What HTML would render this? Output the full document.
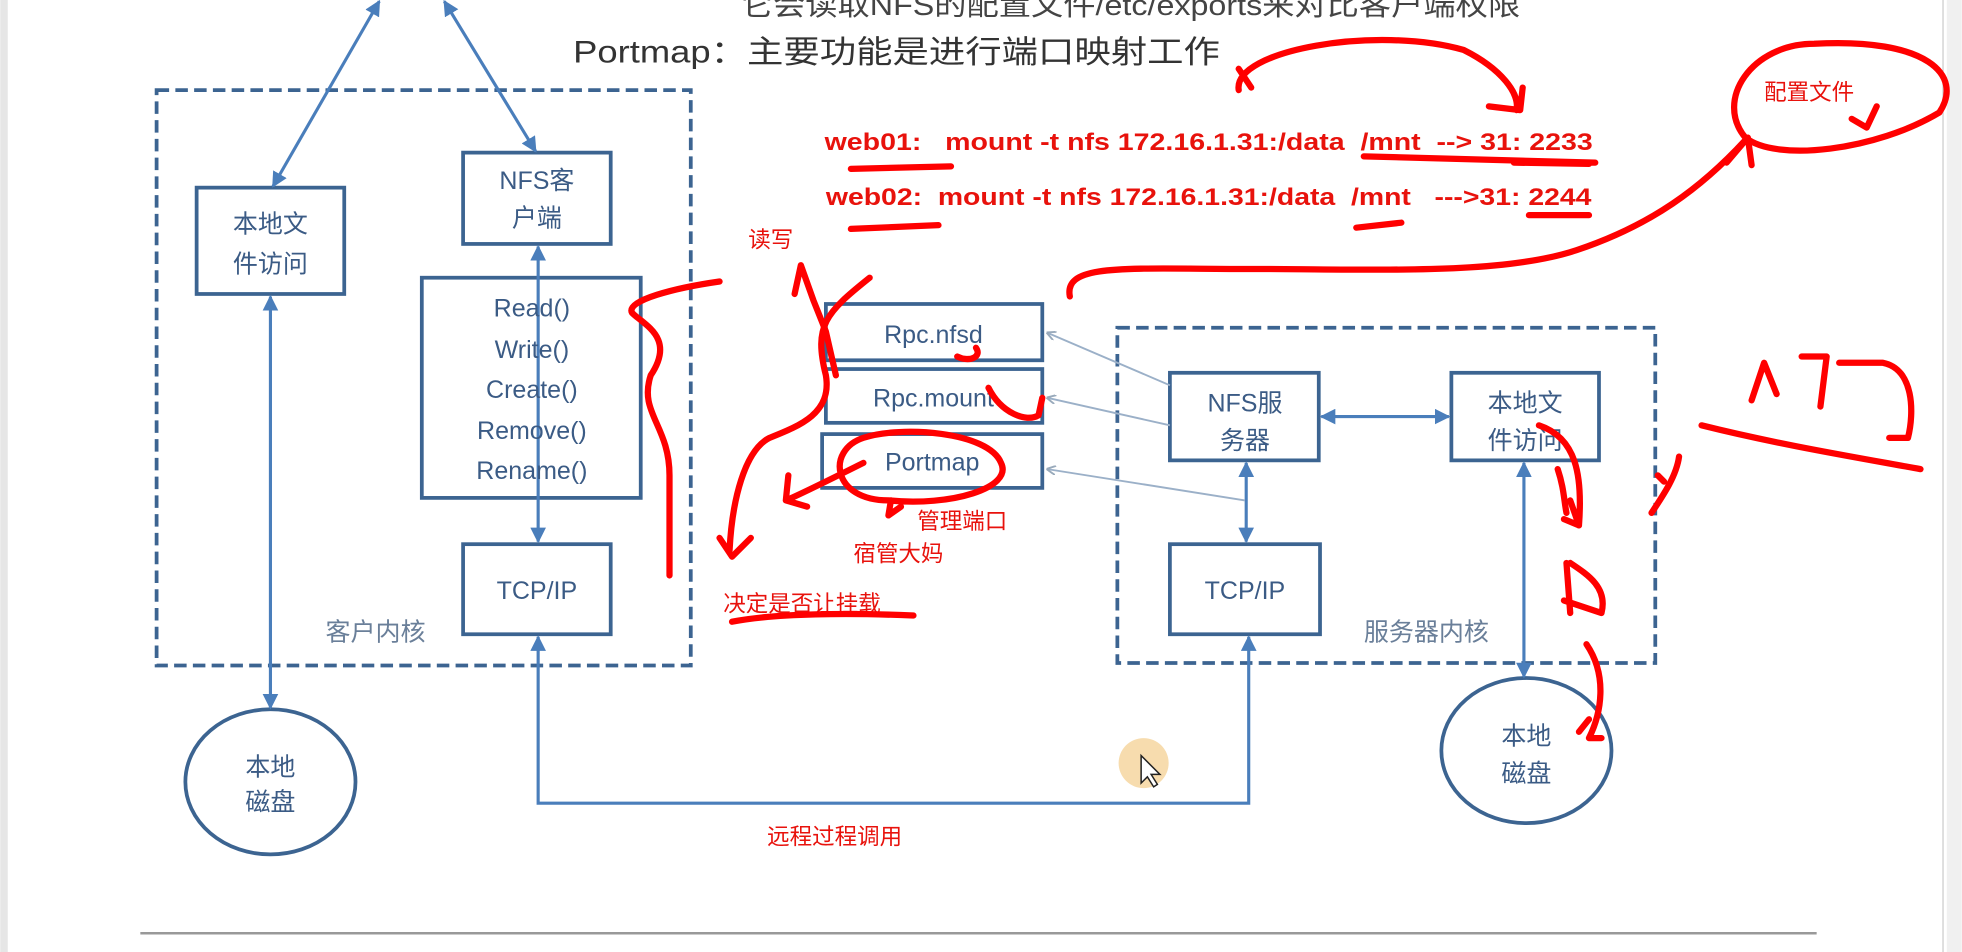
<!DOCTYPE html>
<html><head><meta charset="utf-8"><style>
html,body{margin:0;padding:0;background:#fff;width:1962px;height:952px;overflow:hidden}
svg{display:block}
text{font-family:"Liberation Sans","Noto Sans CJK SC",sans-serif;white-space:pre}
</style></head><body>
<svg width="1962" height="952" viewBox="0 0 1568 761" xmlns="http://www.w3.org/2000/svg">
<defs>
<marker id="a" viewBox="0 0 10 10" refX="9" refY="5" markerWidth="5" markerHeight="5" orient="auto-start-reverse"><path d="M0,0L10,5L0,10z" fill="#4a7ebb"/></marker>
<marker id="b" viewBox="0 0 10 10" refX="9" refY="5" markerWidth="5" markerHeight="5" orient="auto"><path d="M0,0L10,5L0,10" fill="none" stroke="#9ab" stroke-width="2"/></marker>
</defs>
<rect x="0" y="0" width="6" height="761" fill="#e6e6e6"/>
<rect x="1556" y="0" width="12" height="761" fill="#f0f0f0"/>
<line x1="1553" y1="0" x2="1553" y2="761" stroke="#ccc"/>
<line x1="112" y1="746" x2="1452" y2="746" stroke="#999" stroke-width="2"/>
<text x="592" y="12" font-size="23" fill="#444" textLength="623" lengthAdjust="spacingAndGlyphs">它会读取NFS的配置文件/etc/exports来对比客户端权限</text>
<text x="458" y="50" font-size="25" fill="#333" textLength="517" lengthAdjust="spacingAndGlyphs">Portmap：主要功能是进行端口映射工作</text>
<g fill="none" stroke="#3c6491" stroke-width="3">
<rect x="125" y="72" width="427" height="460" stroke-dasharray="10,5"/>
<rect x="893" y="262" width="430" height="268" stroke-dasharray="10,5"/>
<rect x="157" y="150" width="118" height="85"/>
<rect x="370" y="122" width="118" height="73"/>
<rect x="337" y="222" width="175" height="176"/>
<rect x="370" y="435" width="118" height="72"/>
<rect x="660" y="243" width="173" height="45"/>
<rect x="660" y="295" width="173" height="43"/>
<rect x="657" y="347" width="176" height="43"/>
<rect x="935" y="298" width="119" height="70"/>
<rect x="1160" y="298" width="118" height="70"/>
<rect x="935" y="435" width="120" height="72"/>
<ellipse cx="216" cy="625" rx="68" ry="58"/>
<ellipse cx="1220" cy="600" rx="68" ry="58"/>
</g>
<g fill="none" stroke="#4a7ebb" stroke-width="2.5" marker-end="url(#a)" marker-start="url(#a)">
<line x1="303" y1="1" x2="218" y2="149"/>
<line x1="355" y1="1" x2="428" y2="121"/>
<line x1="216" y1="237" x2="216" y2="566"/>
<line x1="430" y1="197" x2="430" y2="433"/>
<polyline points="430,509 430,642 998,642 998,509"/>
<line x1="1056" y1="333" x2="1158" y2="333"/>
<line x1="996" y1="370" x2="996" y2="433"/>
<line x1="1218" y1="370" x2="1218" y2="541"/>
</g>
<g stroke="#9bb0c8" stroke-width="1.5" marker-end="url(#b)">
<line x1="935" y1="308" x2="837" y2="266"/>
<line x1="935" y1="340" x2="837" y2="318"/>
<line x1="995" y1="400" x2="837" y2="375"/>
</g>
<g font-size="20" fill="#3b5b85" text-anchor="middle">
<text x="216" y="186">本地文</text><text x="216" y="218">件访问</text>
<text x="429" y="151">NFS客</text><text x="429" y="181">户端</text>
<text x="425" y="253">Read()</text><text x="425" y="286">Write()</text><text x="425" y="318">Create()</text><text x="425" y="351">Remove()</text><text x="425" y="383">Rename()</text>
<text x="429" y="479">TCP/IP</text>
<text x="746" y="274">Rpc.nfsd</text><text x="746" y="325">Rpc.mount</text><text x="745" y="376">Portmap</text>
<text x="995" y="329">NFS服</text><text x="995" y="359">务器</text>
<text x="1219" y="329">本地文</text><text x="1219" y="359">件访问</text>
<text x="995" y="479">TCP/IP</text>
<text x="216" y="620">本地</text><text x="216" y="648">磁盘</text>
<text x="1220" y="595">本地</text><text x="1220" y="625">磁盘</text>
<text x="300" y="512" fill="#6a7f99">客户内核</text>
<text x="1140" y="512" fill="#6a7f99">服务器内核</text>
</g>
<circle cx="914" cy="610" r="20" fill="#f7dcae"/>
<path d="M912,604 l0,22 l5,-5 l5,8 l3,-2 l-5,-8 l7,0z" fill="#fff" stroke="#222" stroke-width="1.2"/>
<g fill="#e8120c" font-weight="bold" font-size="19">
<text x="659" y="120" textLength="614" lengthAdjust="spacingAndGlyphs">web01:   mount -t nfs 172.16.1.31:/data  /mnt  --&gt; 31: 2233</text>
<text x="660" y="164" textLength="612" lengthAdjust="spacingAndGlyphs">web02:  mount -t nfs 172.16.1.31:/data  /mnt   ---&gt;31: 2244</text>
</g>
<g fill="#e8120c" font-size="18">
<text x="598" y="198">读写</text>
<text x="1410" y="80">配置文件</text>
<text x="733" y="423">管理端口</text>
<text x="682" y="449">宿管大妈</text>
<text x="578" y="489">决定是否让挂载</text>
<text x="613" y="675">远程过程调用</text>
</g>
<g fill="none" stroke="#f00" stroke-width="5" stroke-linecap="round" stroke-linejoin="round">
<path d="M680,135 L760,133 M1090,125 L1275,130 M1210,130 L1270,131 M680,183 L750,180 M1084,182 L1120,178 M1222,172 L1270,172"/>
<path d="M990,72 C985,40 1100,20 1170,40 C1200,55 1215,75 1212,88 M1190,85 L1215,88 L1217,70 M1000,70 L990,55"/>
<path d="M1450,35 C1400,35 1370,80 1395,110 C1420,130 1500,120 1550,90 C1570,60 1540,30 1450,35 Z M1500,85 L1492,102 L1480,95"/>
<path d="M855,237 C850,210 900,215 1000,215 C1100,215 1200,220 1260,200 C1320,180 1360,150 1395,112 M1380,130 L1397,110 L1400,132"/>
<path d="M575,225 C540,230 500,240 505,250 C515,260 540,270 520,300 C510,330 535,340 535,380 L535,460"/>
<path d="M695,222 C660,250 650,260 660,300 C665,330 640,340 615,350 C595,360 585,400 583,440 M575,430 L585,445 L600,430"/>
<path d="M640,212 L650,240 L660,265 L668,300 M640,212 L635,235"/>
<path d="M765,285 C775,290 785,285 780,278 M790,310 C800,330 820,338 830,332 L833,318"/>
<path d="M690,350 C660,360 665,400 710,400 C760,405 810,390 800,370 C790,345 720,340 690,350 Z M690,370 C660,385 640,395 628,400 M628,400 L630,380 M628,400 L645,405 M712,400 L710,412 L720,405"/>
<path d="M585,497 C620,490 680,490 730,492"/>
<path d="M1230,340 C1260,350 1265,380 1262,420 L1255,400 M1262,420 L1250,415 M1245,375 C1250,390 1250,400 1252,410"/>
<path d="M1252,450 L1255,490 M1255,450 C1270,460 1285,470 1280,490 L1250,480 M1268,515 C1285,540 1280,570 1270,590 L1280,590 M1270,575 L1262,585"/>
<path d="M1320,410 C1330,395 1340,380 1342,365 M1325,380 L1330,385"/>
<path d="M1400,320 L1410,290 L1420,315 M1440,285 L1460,285 L1455,325 M1470,290 L1505,290 C1530,295 1530,330 1525,350 L1510,350 M1360,340 C1420,355 1480,365 1535,375"/>
</g>
</svg>
</body></html>
